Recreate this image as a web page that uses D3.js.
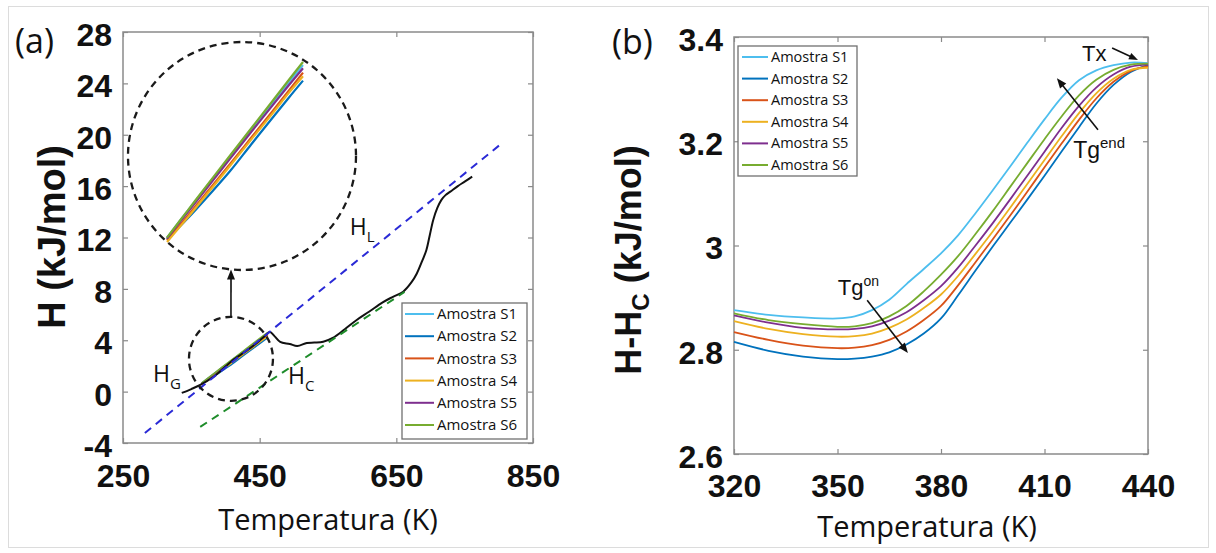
<!DOCTYPE html>
<html><head><meta charset="utf-8">
<script src="https://cdn.jsdelivr.net/npm/d3@7"></script>
<style>html,body{margin:0;padding:0;background:#fff}svg{display:block}</style>
</head><body>
<svg id="fig" width="1216" height="553"></svg>
<script>
// ---------- shared ----------
const seriesNames = ["Amostra S1", "Amostra S2", "Amostra S3", "Amostra S4", "Amostra S5", "Amostra S6"];
const seriesColors = ["#4DBEEE", "#0072BD", "#D95319", "#EDB120", "#7E2F8E", "#77AC30"];

// ---------- (a) enthalpy over the whole heating run ----------
const tempA = [336, 350, 363, 382, 400, 411, 430, 446, 458, 465, 472, 480, 494, 505, 519, 530, 543, 557, 575, 592, 610, 630, 645, 660, 672, 680, 688, 694, 699, 704, 710, 716, 722, 729, 740, 750, 761];
const enthalpyA = [-0.1, 0.2, 0.52, 1.14, 1.95, 2.46, 3.15, 3.79, 4.35, 4.64, 4.3, 3.87, 3.71, 3.55, 3.79, 3.82, 3.89, 4.18, 4.88, 5.58, 6.22, 6.95, 7.38, 7.78, 8.5, 9.2, 10.2, 11.03, 12.2, 13.37, 14.3, 14.93, 15.3, 15.57, 16.0, 16.35, 16.74];
// dashed extrapolations: liquid (H_L) and crystal (H_C)
const liquidT = [282, 805];
const liquidH = [-3.22, 19.36];
const crystalT = [363, 662];
const crystalH = [-2.75, 7.76];
// glass region of each sample (shown magnified)
const glassT = [365, 380, 395, 410, 425, 440, 452, 462];
const glassS1 = [0.66, 1.27, 1.88, 2.49, 3.09, 3.69, 4.17, 4.55];
const glassS2 = [0.62, 1.10, 1.62, 2.16, 2.76, 3.35, 3.82, 4.20];
const glassS3 = [0.60, 1.16, 1.74, 2.32, 2.91, 3.50, 3.98, 4.38];
const glassS4 = [0.56, 1.12, 1.70, 2.28, 2.87, 3.45, 3.93, 4.30];
const glassS5 = [0.64, 1.24, 1.84, 2.44, 3.04, 3.63, 4.10, 4.48];
const glassS6 = [0.66, 1.28, 1.90, 2.51, 3.12, 3.73, 4.22, 4.62];
const ticksAX = [250, 450, 650, 850];
const ticksAY = [-4, 0, 4, 8, 12, 16, 20, 24, 28];

// ---------- (b) H - H_C around the glass transition ----------
const tempB = [320, 330, 340, 350, 355, 360, 365, 370, 375, 380, 385, 390, 395, 400, 405, 410, 415, 420, 425, 430, 435, 440];
const hcS1 = [2.876, 2.867, 2.862, 2.860, 2.864, 2.876, 2.896, 2.926, 2.955, 2.985, 3.020, 3.062, 3.106, 3.151, 3.197, 3.242, 3.284, 3.317, 3.336, 3.346, 3.351, 3.350];
const hcS2 = [2.815, 2.798, 2.787, 2.782, 2.783, 2.787, 2.795, 2.810, 2.831, 2.860, 2.905, 2.952, 2.998, 3.043, 3.088, 3.134, 3.181, 3.227, 3.272, 3.308, 3.333, 3.346];
const hcS3 = [2.834, 2.819, 2.808, 2.803, 2.804, 2.809, 2.819, 2.835, 2.857, 2.884, 2.924, 2.968, 3.012, 3.057, 3.103, 3.150, 3.196, 3.241, 3.282, 3.314, 3.335, 3.344];
const hcS4 = [2.855, 2.840, 2.830, 2.825, 2.826, 2.831, 2.842, 2.858, 2.880, 2.906, 2.942, 2.984, 3.027, 3.072, 3.118, 3.164, 3.210, 3.254, 3.292, 3.320, 3.337, 3.341];
const hcS5 = [2.866, 2.852, 2.842, 2.839, 2.840, 2.845, 2.856, 2.872, 2.895, 2.922, 2.958, 3.000, 3.043, 3.088, 3.134, 3.180, 3.226, 3.268, 3.303, 3.328, 3.343, 3.347];
const hcS6 = [2.870, 2.857, 2.849, 2.844, 2.845, 2.851, 2.864, 2.884, 2.912, 2.944, 2.980, 3.022, 3.066, 3.112, 3.158, 3.204, 3.248, 3.288, 3.318, 3.337, 3.347, 3.349];
const ticksBX = [320, 350, 380, 410, 440];
const ticksBY = [2.6, 2.8, 3, 3.2, 3.4];

const glassSeries = [glassS1, glassS2, glassS3, glassS4, glassS5, glassS6];
const hcSeries = [hcS1, hcS2, hcS3, hcS4, hcS5, hcS6];

// ---------- drawing ----------
const svg = d3.select("#fig");
const BOLD = "'Liberation Sans', Arial, sans-serif";
const SANS = "'Open Sans', 'DejaVu Sans', sans-serif";
const AXIS_GREY = "#8a8a8a";

svg.append("rect").attr("x", 0).attr("y", 0).attr("width", 1216).attr("height", 553).attr("fill", "#fff");
svg.append("rect").attr("x", 8.5).attr("y", 6.5).attr("width", 1200).attr("height", 541)
  .attr("fill", "none").attr("stroke", "#dcdcdc").attr("stroke-width", 1);

function frame(g, x, y, xt, yt, o) {
  const [x0, x1] = x.range();
  const [y0, y1] = y.range();
  const tick = sel => sel.call(s => s.select(".domain").remove())
    .call(s => s.selectAll("line").attr("stroke", AXIS_GREY).attr("stroke-width", 1.2));
  g.append("g").attr("transform", `translate(0,${y0})`)
    .call(d3.axisBottom(x).tickValues(xt).tickSizeInner(-5).tickSizeOuter(0).tickFormat(d => d))
    .call(tick)
    .call(s => s.selectAll("text").attr("y", o.xLabelDy).attr("dy", "0.35em")
      .attr("font-family", BOLD).attr("font-weight", "bold").attr("font-size", o.fontSize).attr("fill", "#111"));
  g.append("g").attr("transform", `translate(0,${y1})`)
    .call(d3.axisTop(x).tickValues(xt).tickSizeInner(-5).tickSizeOuter(0).tickFormat(""))
    .call(tick);
  g.append("g").attr("transform", `translate(${x0},0)`)
    .call(d3.axisLeft(y).tickValues(yt).tickSizeInner(-5).tickSizeOuter(0).tickFormat(d => String(d)))
    .call(tick)
    .call(s => s.selectAll("text").attr("x", -o.yLabelGap).attr("dy", o.yLabelShift)
      .attr("font-family", BOLD).attr("font-weight", "bold").attr("font-size", o.fontSize).attr("fill", "#111"));
  g.append("g").attr("transform", `translate(${x1},0)`)
    .call(d3.axisRight(y).tickValues(yt).tickSizeInner(-5).tickSizeOuter(0).tickFormat(""))
    .call(tick);
  g.append("rect").attr("x", x0).attr("y", y1).attr("width", x1 - x0).attr("height", y0 - y1)
    .attr("fill", "none").attr("stroke", AXIS_GREY).attr("stroke-width", 1.5);
}

function legend(g, o) {
  g.append("rect").attr("x", o.x).attr("y", o.y).attr("width", o.w).attr("height", o.h)
    .attr("fill", "#fff").attr("stroke", "#707070").attr("stroke-width", 1.3);
  seriesNames.forEach((name, i) => {
    const cy = o.row0 + i * o.rowGap;
    g.append("line").attr("x1", o.l0).attr("x2", o.l1).attr("y1", cy).attr("y2", cy)
      .attr("stroke", seriesColors[i]).attr("stroke-width", 2);
    g.append("text").attr("x", o.tx).attr("y", cy).attr("dy", "0.35em")
      .attr("font-family", SANS).attr("font-size", o.fontSize).attr("fill", "#111").text(name);
  });
}

function arrow(g, x1, y1, x2, y2, len = 10, half = 4) {
  const dx = x2 - x1, dy = y2 - y1, d = Math.hypot(dx, dy);
  const ux = dx / d, uy = dy / d;
  const bx = x2 - ux * len, by = y2 - uy * len;
  g.append("line").attr("x1", x1).attr("y1", y1).attr("x2", bx + ux * 2).attr("y2", by + uy * 2)
    .attr("stroke", "#111").attr("stroke-width", 1.6);
  g.append("path")
    .attr("d", `M${x2},${y2}L${bx - uy * half},${by + ux * half}L${bx + uy * half},${by - ux * half}Z`)
    .attr("fill", "#111");
}

function subLabel(g, x, y, main, sub, size, subSize, shift) {
  const t = g.append("text").attr("x", x).attr("y", y).attr("font-family", SANS)
    .attr("font-size", size).attr("fill", "#111");
  t.append("tspan").text(main);
  t.append("tspan").attr("font-size", subSize).attr("dy", shift).text(sub);
}

// ===== panel (a) =====
const xA = d3.scaleLinear().domain([250, 850]).range([123, 533]);
const yA = d3.scaleLinear().domain([-4, 28]).range([443, 32]);
const gA = svg.append("g");
frame(gA, xA, yA, ticksAX, ticksAY, { fontSize: 32, xLabelDy: 33, yLabelGap: 11, yLabelShift: "0.42em" });

const lineA = d3.line().x(d => xA(d[0])).y(d => yA(d[1])).curve(d3.curveCatmullRom.alpha(0.5));
glassSeries.forEach((s, i) => {
  gA.append("path").datum(glassT.map((t, j) => [t, s[j]])).attr("d", lineA)
    .attr("fill", "none").attr("stroke", seriesColors[i]).attr("stroke-width", 1.6);
});
gA.append("path").datum(tempA.map((t, i) => [t, enthalpyA[i]])).attr("d", lineA)
  .attr("fill", "none").attr("stroke", "#111").attr("stroke-width", 2);

const straight = d3.line().x(d => xA(d[0])).y(d => yA(d[1]));
gA.append("path").datum(liquidT.map((t, i) => [t, liquidH[i]])).attr("d", straight)
  .attr("fill", "none").attr("stroke", "#2a2ad6").attr("stroke-width", 2).attr("stroke-dasharray", "8,6");
gA.append("path").datum(crystalT.map((t, i) => [t, crystalH[i]])).attr("d", straight)
  .attr("fill", "none").attr("stroke", "#1e8c2a").attr("stroke-width", 2).attr("stroke-dasharray", "8,6");

// glass region marker, magnified view and connecting arrow
const zoomC = { x: xA(408), y: yA(2.55), r: 42 };
const bigC = { x: 242, y: 156, r: 114 };
const xIn = d3.scaleLinear().domain([365, 462]).range([167, 303]);
const yIn = d3.scaleLinear().domain([0.65, 4.62]).range([238, 62]);
const lineIn = d3.line().x(d => xIn(d[0])).y(d => yIn(d[1])).curve(d3.curveCatmullRom.alpha(0.5));
glassSeries.forEach((s, i) => {
  gA.append("path").datum(glassT.map((t, j) => [t, s[j]])).attr("d", lineIn)
    .attr("fill", "none").attr("stroke", seriesColors[i]).attr("stroke-width", 2.2);
});
[zoomC, bigC].forEach(c => {
  gA.append("circle").attr("cx", c.x).attr("cy", c.y).attr("r", c.r)
    .attr("fill", "none").attr("stroke", "#1a1a1a").attr("stroke-width", 2.3).attr("stroke-dasharray", "7,5");
});
arrow(gA, zoomC.x, zoomC.y - zoomC.r, bigC.x - 11, bigC.y + bigC.r - 0.5, 10, 4);

subLabel(gA, xA(582), yA(12.2), "H", "L", 23, 15, 7);
subLabel(gA, xA(294), yA(0.75), "H", "G", 23, 15, 7);
subLabel(gA, xA(491.5), yA(0.6), "H", "C", 23, 15, 7);

legend(gA, { x: 402, y: 303, w: 125, h: 136, row0: 314, rowGap: 22.2, l0: 405, l1: 434, tx: 437, fontSize: 15 });

gA.append("text").attr("x", 328).attr("y", 520).attr("dy", "0.35em").attr("text-anchor", "middle")
  .attr("font-family", SANS).attr("font-size", 29).attr("fill", "#111").text("Temperatura (K)");
gA.append("text").attr("transform", "translate(51,237) rotate(-90)").attr("text-anchor", "middle")
  .attr("dy", "0.36em").attr("font-family", BOLD).attr("font-weight", "bold").attr("font-size", 38)
  .attr("fill", "#111").text("H (kJ/mol)");
gA.append("text").attr("x", 15).attr("y", 41).attr("dy", "0.36em").attr("font-family", SANS)
  .attr("font-size", 34).attr("fill", "#111").text("(a)");

// ===== panel (b) =====
const xB = d3.scaleLinear().domain([320, 440]).range([734, 1148]);
const yB = d3.scaleLinear().domain([2.6, 3.4]).range([454, 37]);
const gB = svg.append("g");
frame(gB, xB, yB, ticksBX, ticksBY, { fontSize: 32, xLabelDy: 32, yLabelGap: 11, yLabelShift: "0.42em" });

const lineB = d3.line().x(d => xB(d[0])).y(d => yB(d[1])).curve(d3.curveCatmullRom.alpha(0.5));
hcSeries.forEach((s, i) => {
  gB.append("path").datum(tempB.map((t, j) => [t, s[j]])).attr("d", lineB)
    .attr("fill", "none").attr("stroke", seriesColors[i]).attr("stroke-width", 1.8);
});

legend(gB, { x: 738, y: 46, w: 119, h: 130, row0: 57, rowGap: 21.6, l0: 742, l1: 768, tx: 771, fontSize: 14.5 });

// transition markers
const MARK = "'Liberation Sans', Arial, sans-serif";
gB.append("text").attr("x", xB(420.9)).attr("y", yB(3.369)).attr("dy", "0.36em")
  .attr("font-family", MARK).attr("font-size", 22).attr("fill", "#111").text("Tx");
arrow(gB, xB(429.6), yB(3.379), xB(437.1), yB(3.356), 9, 3.5);
const tEnd = gB.append("text").attr("x", xB(418.3)).attr("y", yB(3.168))
  .attr("font-family", MARK).attr("font-size", 23).attr("fill", "#111");
tEnd.append("tspan").text("Tg");
tEnd.append("tspan").attr("font-size", 15).attr("dy", -10).text("end");
arrow(gB, xB(425.5), yB(3.222), xB(413.6), yB(3.321), 10, 4);
const tOn = gB.append("text").attr("x", xB(350.1)).attr("y", yB(2.905))
  .attr("font-family", MARK).attr("font-size", 22).attr("fill", "#111");
tOn.append("tspan").text("Tg");
tOn.append("tspan").attr("font-size", 14).attr("dy", -9).text("on");
arrow(gB, xB(358.6), yB(2.895), xB(370.4), yB(2.794), 10, 4);

gB.append("text").attr("x", 927).attr("y", 527).attr("dy", "0.35em").attr("text-anchor", "middle")
  .attr("font-family", SANS).attr("font-size", 29).attr("fill", "#111").text("Temperatura (K)");
const yTitleB = gB.append("text").attr("transform", "translate(628,260) rotate(-90)").attr("text-anchor", "middle")
  .attr("dy", "0.36em").attr("font-family", BOLD).attr("font-weight", "bold").attr("font-size", 36).attr("fill", "#111");
yTitleB.append("tspan").text("H-H");
yTitleB.append("tspan").attr("font-size", 24).attr("dy", 8).text("C");
yTitleB.append("tspan").attr("dy", -8).text(" (kJ/mol)");
gB.append("text").attr("x", 612).attr("y", 42).attr("dy", "0.36em").attr("font-family", SANS)
  .attr("font-size", 34).attr("fill", "#111").text("(b)");
</script>
</body></html>
